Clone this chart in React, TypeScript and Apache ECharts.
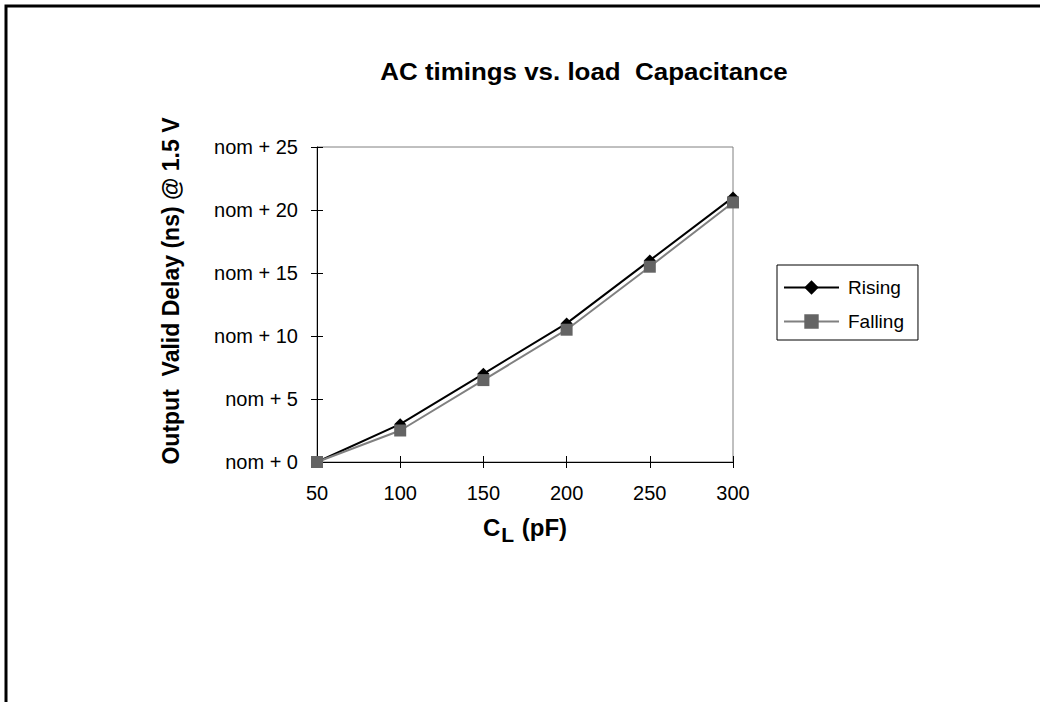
import React, { useEffect, useRef } from "react";
import * as echarts from "echarts";

const capacitance = [50, 100, 150, 200, 250, 300];
const rising = [0, 3, 7, 11, 16, 21];
const falling = [0, 2.5, 6.5, 10.5, 15.5, 20.6];
const seriesNames = ["Rising", "Falling"];
const titleText = "AC timings vs. load  Capacitance";
const yTitle = "Output  Valid Delay (ns) @ 1.5 V";

const FONT = 'Arial, "Liberation Sans", sans-serif';

export default function App() {
  const ref = useRef<HTMLDivElement>(null);
  useEffect(() => {
    if (!ref.current) return;
    const chart = echarts.init(ref.current, undefined, { renderer: "svg" });
    const risingData = capacitance.map((c, i) => [c, rising[i]]);
    const fallingData = capacitance.map((c, i) => [c, falling[i]]);
    chart.setOption({
      animation: false,
      backgroundColor: "#ffffff",
      textStyle: { fontFamily: FONT, color: "#000" },
      grid: {
        left: 317,
        top: 147,
        right: 307,
        bottom: 240,
        show: true,
        borderColor: "#808080",
        borderWidth: 1,
      },
      xAxis: [
        {
          type: "value",
          min: 50,
          max: 300,
          interval: 50,
          position: "bottom",
          axisLine: { show: true, lineStyle: { color: "#000", width: 1 } },
          axisTick: { show: true, length: 6, lineStyle: { color: "#000" } },
          axisLabel: { color: "#000", fontSize: 20, fontFamily: FONT, margin: 21 },
          splitLine: { show: false },
          name: "{a|C}{b|L}{a| (pF)}",
          nameLocation: "middle",
          nameGap: 47,
          nameTextStyle: {
            rich: {
              a: { fontSize: 24, fontWeight: "bold", fontFamily: FONT, color: "#000" },
              b: {
                fontSize: 21,
                fontWeight: "bold",
                fontFamily: FONT,
                color: "#000",
                padding: [15, 1, 0, 1],
              },
            },
          },
        },
        {
          type: "value",
          min: 50,
          max: 300,
          interval: 50,
          position: "bottom",
          axisLine: { show: false },
          axisTick: { show: true, inside: true, length: 6, lineStyle: { color: "#000" } },
          axisLabel: { show: false },
          splitLine: { show: false },
        },
      ],
      yAxis: [
        {
          type: "value",
          min: 0,
          max: 25,
          interval: 5,
          position: "left",
          axisLine: { show: true, lineStyle: { color: "#000", width: 1 } },
          axisTick: { show: true, length: 6, lineStyle: { color: "#000" } },
          axisLabel: {
            color: "#000",
            fontSize: 20,
            fontFamily: FONT,
            margin: 19,
            formatter: (v: number) => `nom + ${v}`,
          },
          splitLine: { show: false },
        },
        {
          type: "value",
          min: 0,
          max: 25,
          interval: 5,
          position: "left",
          axisLine: { show: false },
          axisTick: { show: true, inside: true, length: 6, lineStyle: { color: "#000" } },
          axisLabel: { show: false },
          splitLine: { show: false },
        },
      ],
      legend: {
        orient: "vertical",
        left: 777,
        top: 265,
        padding: [13, 14, 9, 6],
        itemWidth: 55,
        itemHeight: 18,
        itemGap: 15,
        borderColor: "#000",
        borderWidth: 1,
        backgroundColor: "#fff",
        textStyle: { fontSize: 19, fontFamily: FONT, color: "#000", padding: [0, 0, 0, 4] },
        data: seriesNames,
      },
      graphic: [
        {
          type: "polyline",
          shape: { points: [[6, 702], [6, 6], [1040, 6]] },
          style: { stroke: "#000", lineWidth: 3, fill: null },
          silent: true,
        },
        {
          type: "text",
          x: 584,
          y: 71,
          scaleX: 1.08,
          style: {
            text: titleText,
            font: `bold 24px ${FONT}`,
            fill: "#000",
            textAlign: "center",
            textVerticalAlign: "middle",
          },
        },
        {
          type: "text",
          x: 171,
          y: 291,
          rotation: Math.PI / 2,
          style: {
            text: yTitle,
            font: `bold 23px ${FONT}`,
            fill: "#000",
            textAlign: "center",
            textVerticalAlign: "middle",
          },
        },
      ],
      series: [
        {
          name: seriesNames[0],
          type: "line",
          data: risingData,
          symbol: "diamond",
          symbolSize: 12,
          lineStyle: { color: "#000", width: 2 },
          itemStyle: { color: "#000" },
          z: 3,
        },
        {
          name: seriesNames[1],
          type: "line",
          data: fallingData,
          symbol: "rect",
          symbolSize: 12,
          lineStyle: { color: "#808080", width: 2 },
          itemStyle: { color: "#646464" },
          z: 4,
        },
      ],
    });
    return () => chart.dispose();
  }, []);
  return (
    <div
      ref={ref}
      style={{ position: "absolute", left: 0, top: 0, width: 1040, height: 702 }}
    />
  );
}
